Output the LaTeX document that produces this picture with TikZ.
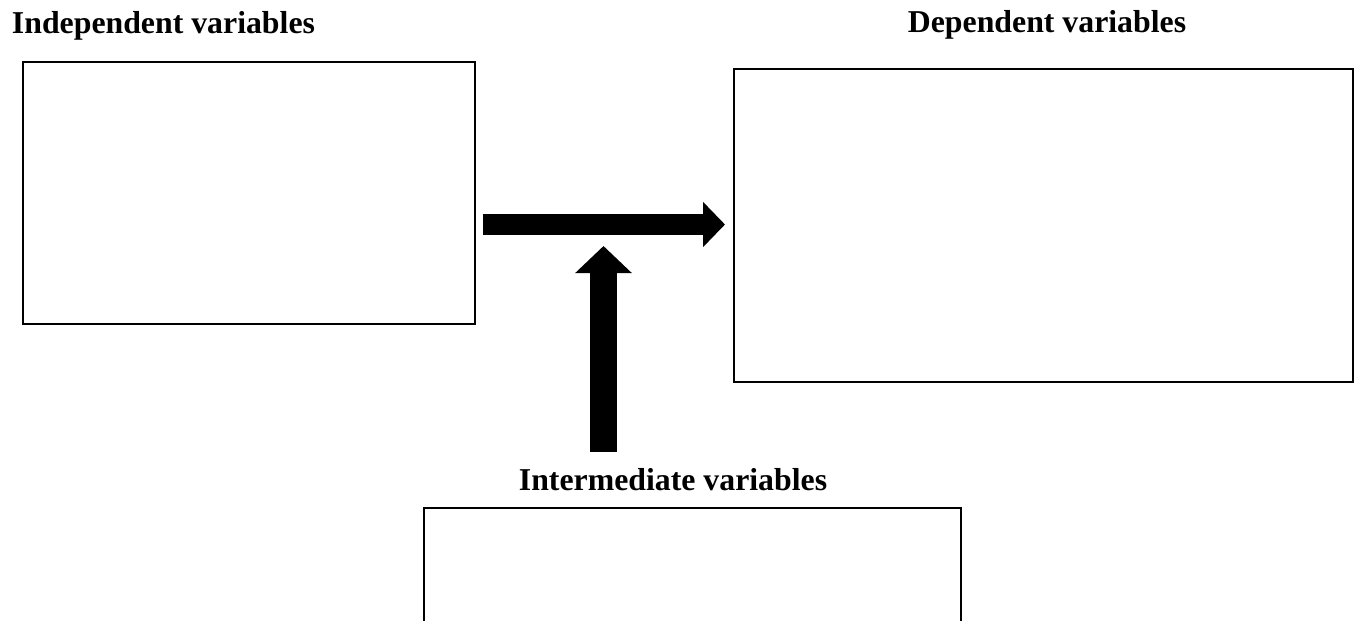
\documentclass[tikz,border=0pt]{standalone}
\usepackage{fontspec}
\setmainfont{Liberation Serif}
\usetikzlibrary{positioning, arrows.meta}

\begin{document}
\begin{tikzpicture}[
  x=0.02cm, y=-0.02cm,
  box/.style={draw, rectangle, line width=0.05cm, inner sep=0pt},
  title/.style={font=\fontsize{18.1}{21}\selectfont\bfseries, anchor=base, inner sep=0pt}
]
\useasboundingbox (0,0) rectangle (1361,620);
\clip (0,0) rectangle (1361,620);

\node[title] (indeptitle) at (163.5,33) {Independent variables};
\node[title] (deptitle) at (1047,32) {Dependent variables};
\node[title] (midtitle) at (673,490) {Intermediate variables};

\node[box, minimum width=9.04cm, minimum height=5.24cm] (indep) at (249,193) {};
\node[box, minimum width=12.38cm, minimum height=6.26cm] (dep) at (1043.5,225.5) {};
\node[box, minimum width=10.74cm, minimum height=3.84cm] (mid) at (692.5,604) {};

\coordinate (hstart) at (483,224.5);
\coordinate (hend) at (725,224.5);
\coordinate (vstart) at (603.5,452);
\coordinate (vend) at (603.5,246);

\draw[line width=0.42cm, -{Triangle[length=0.44cm, width=0.88cm]}] (hstart) -- (hend);
\draw[line width=0.54cm, -{Triangle[length=0.54cm, width=1.1cm]}] (vstart) -- (vend);

\end{tikzpicture}
\end{document}
